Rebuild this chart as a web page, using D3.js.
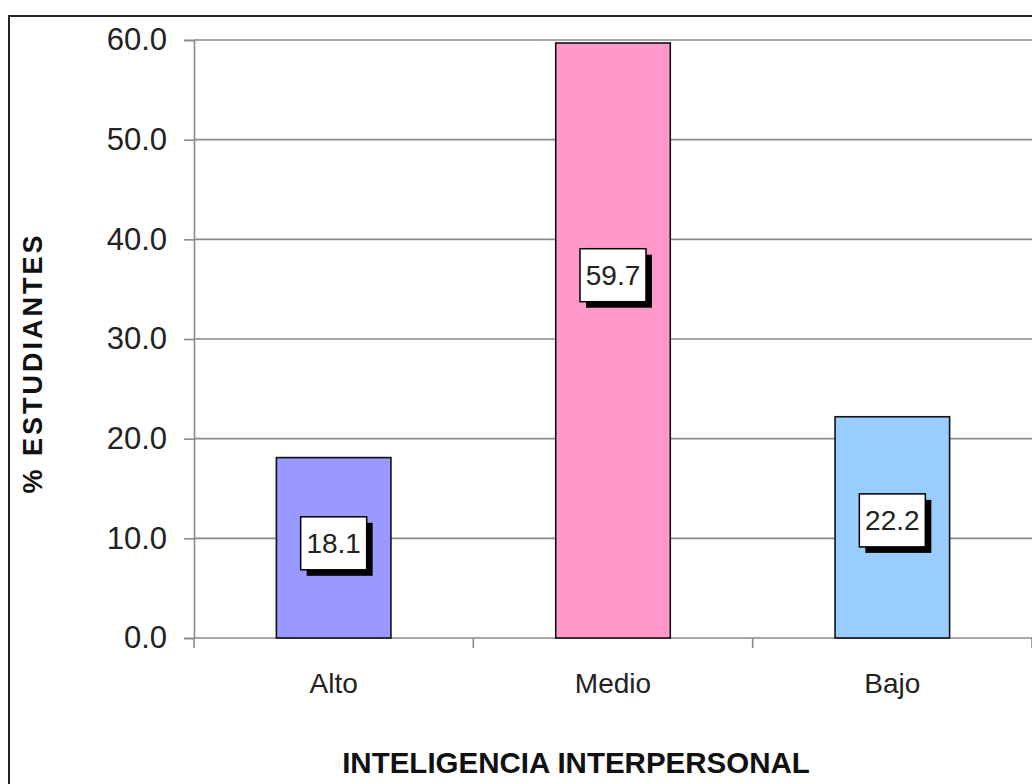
<!DOCTYPE html>
<html>
<head>
<meta charset="utf-8">
<script src="https://cdn.jsdelivr.net/npm/d3@7"></script>
<style>
  html, body { margin: 0; padding: 0; background: #fff; }
  svg { display: block; }
  text { font-family: "Liberation Sans", Arial, sans-serif; }
</style>
</head>
<body>
<svg id="chart" width="1032" height="784"></svg>
<script>
// ---- data ----
const categories = ["Alto", "Medio", "Bajo"];
const values = [18.1, 59.7, 22.2];
const barColors = ["#9999FF", "#FF99CC", "#99CCFF"];
const yTicks = [0, 10, 20, 30, 40, 50, 60];
const labelAnchor = [9.5, 36.4, 11.8]; // label box centre, in data units (as placed in the original)
const yTitle = "% ESTUDIANTES";
const xTitle = "INTELIGENCIA INTERPERSONAL";

(function () {
// ---- layout ----
const svg = d3.select("#chart");
const pLeft = 194, pRight = 1032, pTop = 40, pBottom = 638;

const x = d3.scaleBand().domain(categories).range([pLeft, pRight])
  .paddingInner(0.59).paddingOuter(0.295);
const y = d3.scaleLinear().domain([0, 60]).range([pBottom, pTop]);

// outer chart border
svg.append("rect")
  .attr("x", 9).attr("y", 16).attr("width", 1040).attr("height", 800)
  .attr("fill", "#fff").attr("stroke", "#222").attr("stroke-width", 2);

// gridlines
svg.append("g").selectAll("line").data(yTicks.filter(d => d > 0)).join("line")
  .attr("x1", pLeft).attr("x2", pRight)
  .attr("y1", d => y(d)).attr("y2", d => y(d))
  .attr("stroke", "#8a8a8a").attr("stroke-width", 1.6);

// y axis
const yAxis = svg.append("g").attr("transform", `translate(${pLeft},0)`)
  .call(d3.axisLeft(y).tickValues(yTicks).tickFormat(d3.format(".1f")).tickSize(10).tickPadding(17));
yAxis.select(".domain").attr("stroke", "#8a8a8a").attr("stroke-width", 1.6);
yAxis.selectAll(".tick line").attr("stroke", "#8a8a8a").attr("stroke-width", 1.6);
yAxis.selectAll(".tick text")
  .attr("font-size", 31).attr("fill", "#222")
  .attr("font-family", "'Liberation Sans', Arial, sans-serif");

// x axis baseline
svg.append("line").attr("x1", pLeft).attr("x2", pRight)
  .attr("y1", y(0)).attr("y2", y(0))
  .attr("stroke", "#8a8a8a").attr("stroke-width", 1.6);

// category boundary ticks
const gap = (x.step() - x.bandwidth()) / 2;
const bounds = categories.map(c => x(c) - gap).concat([x(categories[categories.length - 1]) + x.bandwidth() + gap]);
svg.append("g").selectAll("line").data(bounds).join("line")
  .attr("x1", d => d).attr("x2", d => d)
  .attr("y1", y(0)).attr("y2", y(0) + 10)
  .attr("stroke", "#8a8a8a").attr("stroke-width", 1.6);

// x tick labels
svg.append("g").selectAll("text").data(categories).join("text")
  .attr("x", d => x(d) + x.bandwidth() / 2)
  .attr("y", 693)
  .attr("text-anchor", "middle")
  .attr("font-size", 28).attr("fill", "#222")
  .text(d => d);

// bars
svg.append("g").selectAll("rect").data(values).join("rect")
  .attr("x", (d, i) => x(categories[i]))
  .attr("y", d => y(d))
  .attr("width", x.bandwidth())
  .attr("height", d => y(0) - y(d))
  .attr("fill", (d, i) => barColors[i])
  .attr("stroke", "#111").attr("stroke-width", 1.6);

// data labels with shadow
const bw = 66, bh = 53, sh = 6;
const lab = svg.append("g").selectAll("g").data(values).join("g")
  .attr("transform", (d, i) => `translate(${x(categories[i]) + x.bandwidth() / 2},${y(labelAnchor[i])})`);
lab.append("rect")
  .attr("x", -bw / 2 + sh).attr("y", -bh / 2 + sh)
  .attr("width", bw).attr("height", bh).attr("fill", "#000");
lab.append("rect")
  .attr("x", -bw / 2).attr("y", -bh / 2)
  .attr("width", bw).attr("height", bh)
  .attr("fill", "#fff").attr("stroke", "#000").attr("stroke-width", 1.5);
lab.append("text")
  .attr("x", 0).attr("y", 10)
  .attr("text-anchor", "middle")
  .attr("font-size", 28).attr("fill", "#222")
  .text(d => d3.format(".1f")(d));

// axis titles
svg.append("text")
  .attr("transform", "translate(42,363) rotate(-90)")
  .attr("text-anchor", "middle")
  .attr("font-size", 27).attr("font-weight", "bold")
  .attr("letter-spacing", 3).attr("fill", "#111")
  .text(yTitle);
svg.append("text")
  .attr("x", 576).attr("y", 773)
  .attr("text-anchor", "middle")
  .attr("font-size", 29.5).attr("font-weight", "bold").attr("fill", "#111")
  .text(xTitle);
})();
</script>
</body>
</html>
